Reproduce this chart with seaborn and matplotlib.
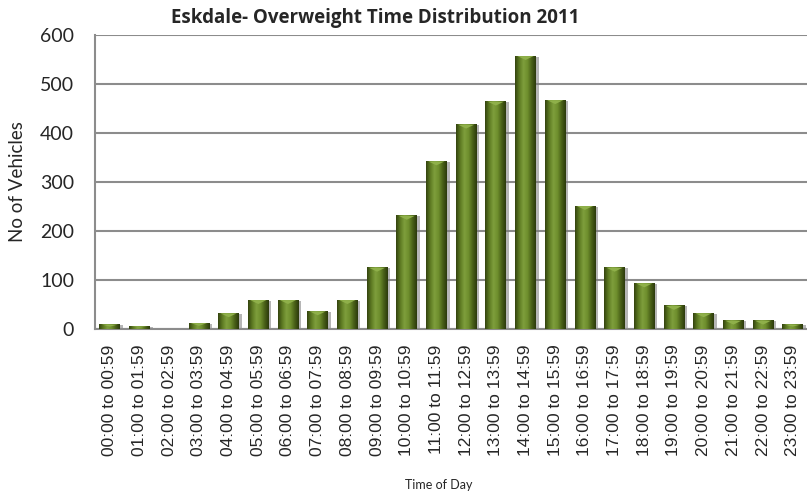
import numpy as np
import pandas as pd
import matplotlib
matplotlib.use("Agg")
import matplotlib.pyplot as plt
import seaborn as sns
from matplotlib.colors import LinearSegmentedColormap
from matplotlib.patches import Rectangle

hours = [f"{h:02d}:00 to {h:02d}:59" for h in range(24)]
vehicles = [10, 6, 0, 13, 33, 60, 60, 37, 60, 126, 232, 343, 418, 465, 558,
            468, 252, 126, 94, 48, 33, 18, 18, 10]
y_ticks = [0, 100, 200, 300, 400, 500, 600]

df = pd.DataFrame({"hour": hours, "vehicles": vehicles})

sns.set_style("white")
plt.rcParams["font.family"] = ["Lato", "DejaVu Sans"]

fig = plt.figure(figsize=(8.07, 4.92), dpi=100)
ax = fig.add_axes([95 / 807, 163 / 492, 720 / 807, 294 / 492])

sns.barplot(data=df, x="hour", y="vehicles", color="#6a8a2a", width=0.7,
            edgecolor="none", saturation=1, ax=ax, zorder=3)

# bevelled look: shadow + horizontal gradient + lighter cap
grad = LinearSegmentedColormap.from_list(
    "bevel", ["#34440f", "#5d7a22", "#7e9e3c", "#6f8f2e", "#4a6118", "#2c3a0c"])
g = np.linspace(0, 1, 64).reshape(1, -1)
for p in list(ax.patches):
    x0, w, h = p.get_x(), p.get_width(), p.get_height()
    if h <= 0:
        continue
    ax.add_patch(Rectangle((x0 + 0.09, 0), w, h - 2, facecolor="#7b7b7b",
                           alpha=0.55, zorder=2, edgecolor="none"))
    im = ax.imshow(g, cmap=grad, aspect="auto", extent=(x0, x0 + w, 0, h),
                   zorder=3.5, interpolation="bilinear")
    im.set_clip_path(p)
    cap = min(9, h * 0.5)
    ax.fill([x0 + 0.08, x0 + w - 0.08, x0 + w / 2],
            [h - 1, h - 1, h - cap], color="#8fb04a", zorder=3.6, lw=0)

ax.set_xlim(-0.5, 23.5 + 0.25)
ax.set_ylim(0, 600)
ax.set_yticks(y_ticks)
ax.yaxis.grid(True, color="#8c8c8c", lw=1.5, zorder=0)
ax.set_axisbelow(True)

for s in ["top", "right"]:
    ax.spines[s].set_visible(False)
ax.spines["left"].set_color("#8c8c8c")
ax.spines["left"].set_linewidth(1.5)
ax.spines["bottom"].set_color("#8c8c8c")
ax.spines["bottom"].set_linewidth(1.5)

ax.set_xticks(range(24))
ax.set_xticklabels(hours, rotation=90, fontsize=12.5,
                   family=["Liberation Sans", "DejaVu Sans"])
ax.set_xticks(np.arange(-0.5, 24, 1), minor=True)
ax.tick_params(axis="x", which="major", length=0, pad=11)
ax.tick_params(axis="x", which="minor", length=4, color="#8c8c8c", width=1.2, direction="out")
ax.tick_params(axis="y", length=5, color="#8c8c8c", width=1.2, labelsize=14, pad=10)

ax.set_xlabel("Time of Day", fontsize=9)
ax.set_ylabel("No of Vehicles", fontsize=13.5)
ax.xaxis.set_label_coords((439 - 95) / 720, -(479 - 329) / 294)
ax.yaxis.set_label_coords(-(95 - 26) / 720, 0.5)

fig.text(375 / 807, 1 - 18 / 492, "Eskdale- Overweight Time Distribution 2011",
         ha="center", va="center", fontsize=13.5, fontweight="bold",
         family=["Open Sans", "DejaVu Sans"])

fig.savefig("out.png", dpi=100)
